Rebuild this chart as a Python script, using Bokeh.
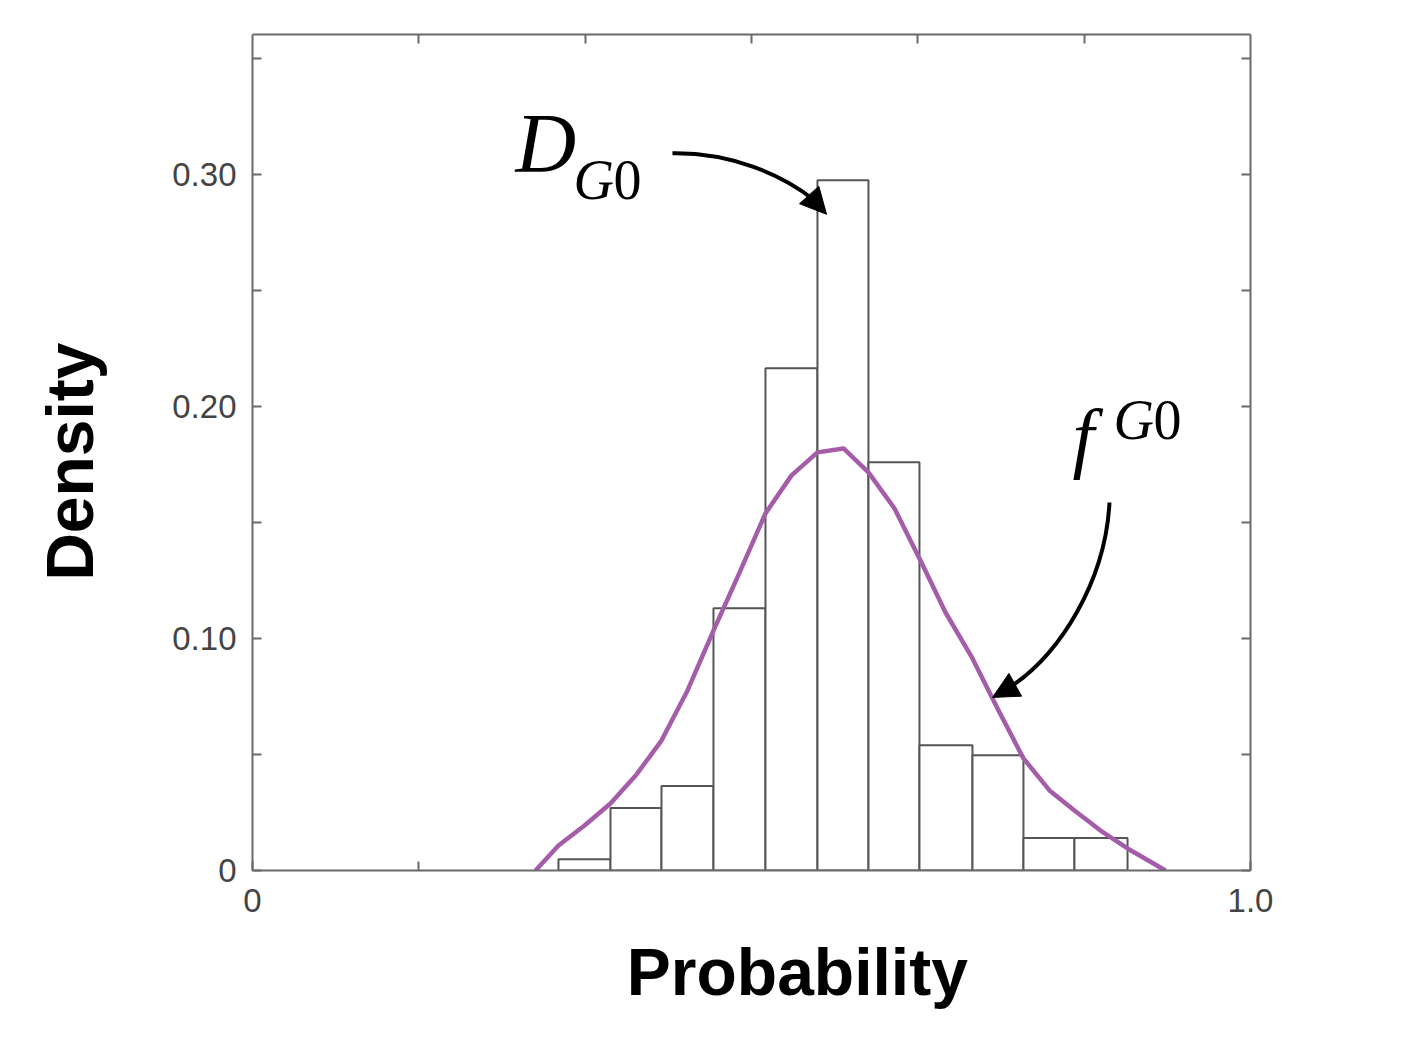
from bokeh.plotting import figure
from bokeh.models import (FixedTicker, LinearAxis, Range1d, Label, Arrow, NormalHead,
                          ColumnDataSource)
from bokeh.embed import file_html
from bokeh.resources import INLINE

# ---------------- data ----------------
bin_left = [0.3066, 0.3587, 0.4098, 0.4619, 0.5140, 0.5661, 0.6172, 0.6683, 0.7214, 0.7725, 0.8236]
bin_right = [0.3587, 0.4098, 0.4619, 0.5140, 0.5661, 0.6172, 0.6683, 0.7214, 0.7725, 0.8236, 0.8768]
density = [0.0049, 0.0269, 0.0364, 0.1130, 0.2165, 0.2975, 0.1760, 0.0540, 0.0497, 0.0140, 0.0140]

curve_x = [0.2836, 0.3066, 0.3327, 0.3587, 0.3848, 0.4098, 0.4359, 0.4619, 0.4880, 0.5140,
           0.5401, 0.5661, 0.5922, 0.6172, 0.6433, 0.6693, 0.6944, 0.7204, 0.7465, 0.7725,
           0.7986, 0.8236, 0.8497, 0.8768, 0.9028, 0.9148]
curve_y = [0.0000, 0.0108, 0.0194, 0.0289, 0.0414, 0.0560, 0.0776, 0.1034, 0.1284, 0.1539,
           0.1703, 0.1802, 0.1819, 0.1716, 0.1560, 0.1336, 0.1112, 0.0922, 0.0698, 0.0483,
           0.0345, 0.0259, 0.0172, 0.0095, 0.0030, 0.0000]

y_major_ticks = [0, 0.1, 0.2, 0.3]
y_minor_ticks = [0.05, 0.15, 0.25, 0.35]
y_all_ticks = [0, 0.05, 0.1, 0.15, 0.2, 0.25, 0.3, 0.35]
y_tick_labels = {0: "0", 0.1: "0.10", 0.2: "0.20", 0.3: "0.30"}
x_major_ticks = [0, 1]
x_minor_ticks = [1 / 6]
x_tick_labels = {0: "0", 1: "1.0"}
x_ticks_top = [1 / 6, 2 / 6, 3 / 6, 4 / 6, 5 / 6]

x_title = "Probability"
y_title = "Density"

# ---------------- styling ----------------
AX = "#6a6a6a"
TICK_FONT = "Liberation Sans"
TITLE_FONT = "Liberation Sans"
NBSP = "\u00a0"

p = figure(width=1414, height=1042, output_backend="svg", toolbar_location=None,
           x_range=Range1d(0, 1), y_range=Range1d(0, 0.3603),
           min_border_left=252, min_border_right=164, min_border_top=34, min_border_bottom=172)
p.background_fill_color = "white"
p.border_fill_color = "white"
p.outline_line_color = None
p.xgrid.visible = False
p.ygrid.visible = False


def style_axis(ax):
    ax.axis_line_color = AX
    ax.axis_line_width = 2
    ax.major_tick_line_color = AX
    ax.major_tick_line_width = 2
    ax.major_tick_in = 9
    ax.major_tick_out = 0
    ax.minor_tick_line_color = AX
    ax.minor_tick_line_width = 2
    ax.minor_tick_in = 9
    ax.minor_tick_out = 0
    ax.major_label_text_font = TICK_FONT
    ax.major_label_text_font_size = "33px"
    ax.major_label_text_color = "#444444"
    ax.axis_label_text_font = TITLE_FONT
    ax.axis_label_text_font_size = "66px"
    ax.axis_label_text_font_style = "bold"
    ax.axis_label_text_color = "black"


# bottom axis (title shifted right as in the reference with leading no-break spaces)
xa = p.xaxis[0]
style_axis(xa)
xa.ticker = FixedTicker(ticks=x_major_ticks, minor_ticks=x_minor_ticks)
xa.major_label_overrides = x_tick_labels
xa.major_label_standoff = 18
xa.axis_label = NBSP * 5 + x_title
xa.axis_label_standoff = 20

# left axis
ya = p.yaxis[0]
style_axis(ya)
ya.ticker = FixedTicker(ticks=y_major_ticks, minor_ticks=y_minor_ticks)
ya.major_label_overrides = y_tick_labels
ya.major_label_standoff = 16
ya.axis_label = y_title + NBSP
ya.axis_label_standoff = 62

# top axis (ticks only, no labels)
ta = LinearAxis(ticker=FixedTicker(ticks=[], minor_ticks=x_ticks_top))
style_axis(ta)
p.add_layout(ta, "above")

# right axis (ticks only, no labels)
ra = LinearAxis(ticker=FixedTicker(ticks=[], minor_ticks=y_all_ticks))
style_axis(ra)
p.add_layout(ra, "right")

# histogram bars
src = ColumnDataSource(dict(left=bin_left, right=bin_right, top=density,
                            bottom=[0] * len(density)))
p.quad(left="left", right="right", top="top", bottom="bottom", source=src,
       fill_color="white", line_color="#555555", line_width=2)

# density curve
p.line(curve_x, curve_y, line_color="#a55ca9", line_width=4.5, line_join="round")

# ---------------- annotations ----------------
SERIF = "Liberation Serif"
p.add_layout(Label(x=0.2635, y=0.3135, text="D", text_font=SERIF, text_font_style="italic",
                   text_font_size="84px", text_color="black", text_baseline="alphabetic"))
p.add_layout(Label(x=0.3216, y=0.2975, text="G", text_font=SERIF, text_font_style="italic",
                   text_font_size="56px", text_color="black", text_baseline="alphabetic"))
p.add_layout(Label(x=0.3617, y=0.2975, text="0", text_font=SERIF,
                   text_font_size="56px", text_color="black", text_baseline="alphabetic"))

p.add_layout(Label(x=0.8217, y=0.1870, text="f", text_font=SERIF, text_font_style="italic",
                   text_font_size="78px", text_color="black", text_baseline="alphabetic"))
p.add_layout(Label(x=0.8627, y=0.1940, text="G", text_font=SERIF, text_font_style="italic",
                   text_font_size="56px", text_color="black", text_baseline="alphabetic"))
p.add_layout(Label(x=0.9028, y=0.1940, text="0", text_font=SERIF,
                   text_font_size="56px", text_color="black", text_baseline="alphabetic"))

# curved arrows
p.bezier(x0=[0.4208], y0=[0.3091], x1=[0.5620], y1=[0.2892],
         cx0=[0.4790], cy0=[0.3095], cx1=[0.5301], cy1=[0.3000],
         line_color="black", line_width=4)
p.add_layout(Arrow(end=NormalHead(size=26, fill_color="black", line_color="black", line_width=1),
                   x_start=0.5591, y_start=0.2905, x_end=0.5752, y_end=0.2828,
                   line_color="black", line_width=4, line_alpha=0))

p.bezier(x0=[0.8587], y0=[0.1586], x1=[0.7555], y1=[0.0780],
         cx0=[0.8547], cy0=[0.1250], cx1=[0.8096], cy1=[0.0927],
         line_color="black", line_width=4)
p.add_layout(Arrow(end=NormalHead(size=26, fill_color="black", line_color="black", line_width=1),
                   x_start=0.7595, y_start=0.0789, x_end=0.7415, y_end=0.0746,
                   line_color="black", line_width=4, line_alpha=0))

open("out.html", "w").write(file_html(p, INLINE))
